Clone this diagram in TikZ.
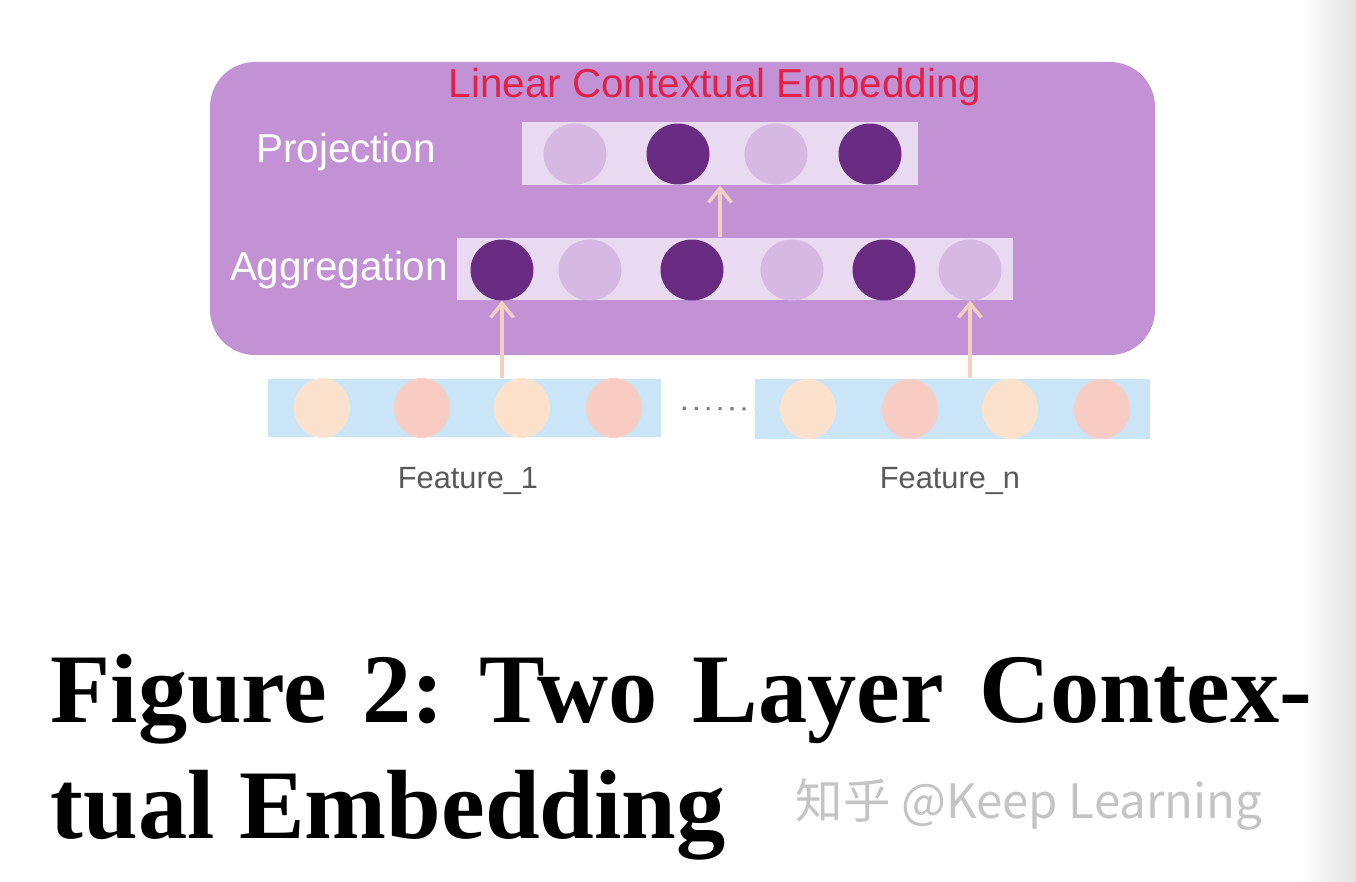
\documentclass[tikz,border=0pt]{standalone}
\usepackage{fontspec}
\usepackage{tikz}
\usetikzlibrary{arrows.meta,shapes.geometric}
\setmainfont{Liberation Sans}
\newfontfamily\capfont{Liberation Serif}
\newfontfamily\cjkfont{Noto Sans CJK SC}
\definecolor{outerpurple}{RGB}{194,146,212}
\definecolor{barlilac}{RGB}{233,218,241}
\definecolor{darkdot}{RGB}{106,44,130}
\definecolor{lightdot}{RGB}{214,185,227}
\definecolor{featblue}{RGB}{202,229,248}
\definecolor{peach}{RGB}{252,226,204}
\definecolor{salmon}{RGB}{249,204,196}
\definecolor{arrowpeach}{RGB}{244,208,194}
\definecolor{titlered}{RGB}{226,32,72}
\definecolor{wmgray}{RGB}{196,196,196}
\frenchspacing

\begin{document}
\begin{tikzpicture}[x=0.02cm, y=-0.02cm, line width=0.7pt,
  vecbar/.style={draw=none, rectangle, inner sep=0pt},
  unit/.style={draw=none, ellipse, inner sep=0pt, minimum width=1.26cm, minimum height=1.22cm},
  funit/.style={draw=none, ellipse, inner sep=0pt, minimum width=1.12cm, minimum height=1.2cm},
  up/.style={draw=arrowpeach, line width=2pt, -{Straight Barb[length=8pt,width=13pt,line width=2pt]}},
  lbl/.style={text=white, font=\fontsize{23}{27}\selectfont}]
\useasboundingbox (0,0) rectangle (1356,882);
% page edge on the right, fading into grey
\shade[left color=white, right color=black!11] (1300,0) rectangle (1356,882);

% the outer block
\fill[outerpurple, rounded corners=0.9cm] (210,62) rectangle (1155,355);
\node[text=titlered, font=\fontsize{23}{27}\selectfont] (title) at (715,87) {Linear Contextual Embedding};

% projection layer
\node[vecbar, fill=barlilac, minimum width=7.92cm, minimum height=1.26cm] (proj) at (720,153.5) {};
\node[lbl] (projlbl) at (346,152) {Projection};
\foreach \x/\c [count=\i] in {575/lightdot, 678/darkdot, 776/lightdot, 870/darkdot}
  \node[unit, fill=\c] (p\i) at (\x,154) {};

% aggregation layer
\node[vecbar, fill=barlilac, minimum width=11.12cm, minimum height=1.24cm] (agg) at (735,269) {};
\node[lbl] (agglbl) at (339,270) {Aggregation};
\foreach \x/\c [count=\i] in {502/darkdot, 590/lightdot, 692/darkdot, 792/lightdot, 884/darkdot, 970/lightdot}
  \node[unit, fill=\c] (a\i) at (\x,270) {};

% feature vectors
\node[vecbar, fill=featblue, minimum width=7.86cm, minimum height=1.18cm] (f1) at (464.5,408) {};
\node[vecbar, fill=featblue, minimum width=7.9cm, minimum height=1.22cm] (fn) at (952.5,409) {};
\foreach \x/\c [count=\i] in {322/peach, 422/salmon, 522/peach, 614/salmon}
  \node[funit, fill=\c] (g\i) at (\x,408) {};
\foreach \x/\c [count=\i] in {808/peach, 910/salmon, 1010/peach, 1102/salmon}
  \node[funit, fill=\c] (h\i) at (\x,409) {};
\draw[black!50, line width=1.8pt, dash pattern=on 1.8pt off 5pt, shorten <=12pt, shorten >=0pt] (f1.east) -- (fn.west);
\node[text=black!65, font=\fontsize{17.5}{21}\selectfont] (f1lbl) at (468,481) {Feature\_1};
\node[text=black!65, font=\fontsize{17.5}{21}\selectfont] (fnlbl) at (950,481) {Feature\_n};

% connections between layers
\coordinate (mid) at (720,0);
\draw[up] (f1.north -| a1) -- (agg.south -| a1);
\draw[up] (fn.north -| a6) -- (agg.south -| a6);
\draw[up] (agg.north -| mid) -- (proj.south -| mid);

% caption and watermark
\node[anchor=base west, inner sep=0pt, font=\capfont\bfseries\fontsize{56}{62}\selectfont] (cap1) at (50,722)
  {\makebox[25.24cm][s]{Figure 2: Two Layer Contex-}};
\node[anchor=base west, inner sep=0pt, font=\capfont\bfseries\fontsize{56}{62}\selectfont] (cap2) at (50,838)
  {tual Embedding};
\node[anchor=base west, inner sep=0pt, text=wmgray, font=\cjkfont\fontsize{27}{31}\selectfont] (wm) at (795,818)
  {知乎 @Keep Learning};
\end{tikzpicture}
\end{document}
